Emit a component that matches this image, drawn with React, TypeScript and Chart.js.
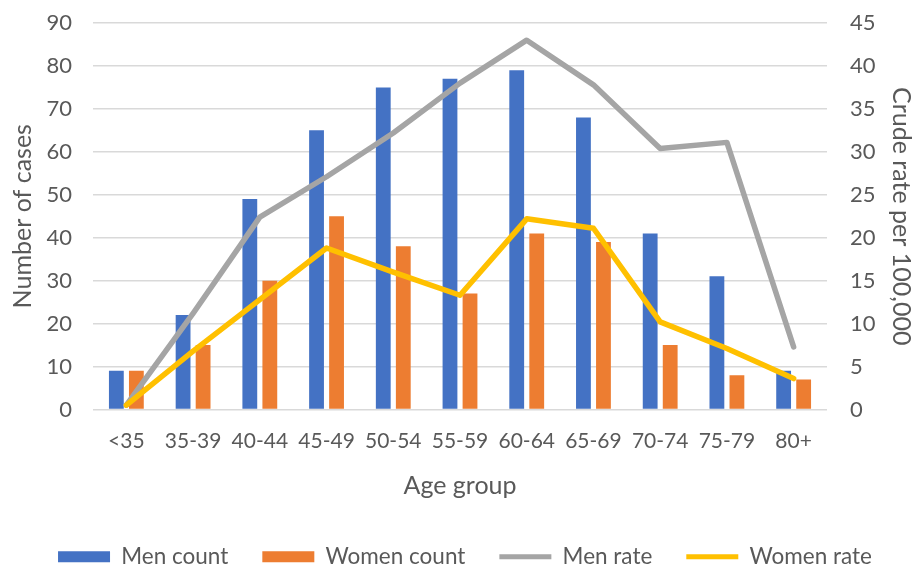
import React, { useEffect, useRef } from "react";
import { Chart, registerables } from "chart.js";

Chart.register(...registerables);

const categories = ["<35", "35-39", "40-44", "45-49", "50-54", "55-59", "60-64", "65-69", "70-74", "75-79", "80+"];
const menCount = [9, 22, 49, 65, 75, 77, 79, 68, 41, 31, 9];
const womenCount = [9, 15, 30, 45, 38, 27, 41, 39, 15, 8, 7];
const menRate = [0.5, 11.2, 22.4, 27.1, 32.2, 38.0, 43.0, 37.8, 30.4, 31.1, 7.3];
const womenRate = [0.5, 6.8, 12.8, 18.8, 16.0, 13.3, 22.2, 21.1, 10.2, 7.1, 3.6];

const FONT = "Lato, 'Open Sans', sans-serif";
const TEXT = "#595959";

export default function App() {
  const ref = useRef<HTMLCanvasElement | null>(null);
  useEffect(() => {
    if (!ref.current) return;
    const chart = new Chart(ref.current, {
      type: "bar",
      data: {
        labels: categories,
        datasets: [
          { type: "bar", label: "Men count", data: menCount, backgroundColor: "#4472C4", yAxisID: "y", order: 2 },
          { type: "bar", label: "Women count", data: womenCount, backgroundColor: "#ED7D31", yAxisID: "y", order: 3 },
          {
            type: "line", label: "Men rate", data: menRate, borderColor: "#A5A5A5", backgroundColor: "#A5A5A5",
            borderWidth: 5.5, pointRadius: 0, yAxisID: "y1", order: 1, borderCapStyle: "round", borderJoinStyle: "round",
          },
          {
            type: "line", label: "Women rate", data: womenRate, borderColor: "#FFC000", backgroundColor: "#FFC000",
            borderWidth: 5.5, pointRadius: 0, yAxisID: "y1", order: 0, borderCapStyle: "round", borderJoinStyle: "round",
          },
        ],
      },
      options: {
        responsive: false,
        animation: false,
        layout: { padding: { top: 23, left: 18, right: 0, bottom: -12 } },
        datasets: { bar: { categoryPercentage: 0.6, barPercentage: 0.74 } },
        plugins: {
          tooltip: { enabled: false },
          legend: {
            position: "bottom",
            labels: {
              color: TEXT,
              font: { family: FONT, size: 22.5 },
              usePointStyle: true,
              pointStyleWidth: 52,
              boxHeight: 11,
              padding: 34,
              sort: (a: any, b: any) => a.datasetIndex - b.datasetIndex,
              generateLabels: (c: any) => {
                const items = Chart.defaults.plugins.legend.labels.generateLabels(c);
                return items.map((it: any) => {
                  const ds = c.data.datasets[it.datasetIndex];
                  if (ds.type === "line") {
                    return { ...it, pointStyle: "line", lineWidth: 5, strokeStyle: ds.borderColor, fillStyle: ds.borderColor };
                  }
                  return { ...it, pointStyle: "rect", lineWidth: 0 };
                });
              },
            },
          },
        },
        scales: {
          x: {
            grid: { display: false, drawTicks: false },
            border: { display: false },
            ticks: { color: TEXT, font: { family: FONT, size: 21 }, padding: 19 },
            title: { display: true, text: "Age group", color: TEXT, font: { family: FONT, size: 25, lineHeight: 1 }, padding: { top: 0, bottom: 13 } },
            afterFit: (s: any) => { s.height = 102; },
          },
          y: {
            position: "left",
            min: 0,
            max: 90,
            ticks: { stepSize: 10, color: TEXT, font: { family: FONT, size: 22 }, padding: 0 },
            grid: { color: "#D9D9D9", lineWidth: 1.5, drawTicks: true, tickLength: 21, tickColor: "rgba(0,0,0,0)" },
            border: { display: false },
            title: { display: true, text: "Number of cases", color: TEXT, font: { family: FONT, size: 25, lineHeight: 1 }, padding: { top: -8, bottom: 0 } },
            afterFit: (s: any) => { s.width = 75; },
          },
          y1: {
            position: "right",
            min: 0,
            max: 45,
            ticks: { stepSize: 5, color: TEXT, font: { family: FONT, size: 22 }, padding: 0 },
            grid: { display: true, drawOnChartArea: false, color: "rgba(0,0,0,0)", drawTicks: true, tickLength: 23, tickColor: "rgba(0,0,0,0)" },
            border: { display: false },
            title: { display: true, text: "Crude rate per 100,000", color: TEXT, font: { family: FONT, size: 25, lineHeight: 1 }, padding: { top: -2, bottom: 0 } },
            afterFit: (s: any) => { s.width = 85; },
          },
        },
      },
    });
    return () => chart.destroy();
  }, []);
  return (
    <div style={{ position: "absolute", left: 0, top: 0, width: 912, height: 566, background: "#fff" }}>
      <canvas ref={ref} width={912} height={566} />
    </div>
  );
}
